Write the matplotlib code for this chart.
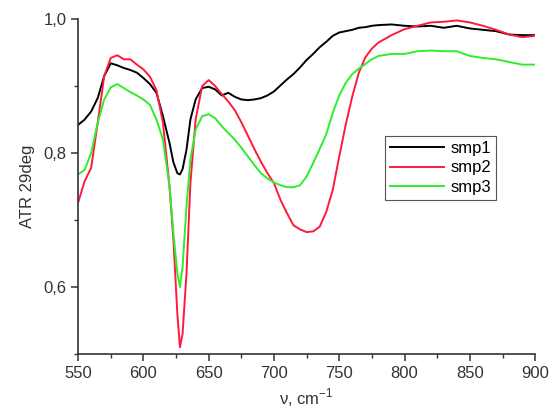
import matplotlib
matplotlib.use("Agg")
import matplotlib.pyplot as plt
from matplotlib.ticker import MultipleLocator, FuncFormatter

plt.rcParams['font.family'] = ['Liberation Sans', 'DejaVu Sans']

# wavenumber, cm-1
nu = [550, 555, 560, 565, 570, 575, 580, 585, 590, 595, 600, 605, 610, 615, 620, 623,
      626, 628, 630, 633, 636, 640, 645, 650, 655, 660, 665, 670, 675, 680, 685, 690,
      695, 700, 705, 710, 715, 720, 725, 730, 735, 740, 745, 750, 755, 760, 765, 770,
      775, 780, 790, 800, 810, 820, 830, 840, 850, 860, 870, 880, 890, 900]

smp1 = [0.842, 0.850, 0.862, 0.882, 0.915, 0.934, 0.931, 0.927, 0.924, 0.920, 0.912, 0.903,
        0.890, 0.855, 0.815, 0.786, 0.770, 0.768, 0.776, 0.805, 0.850, 0.880, 0.897, 0.899,
        0.895, 0.886, 0.890, 0.884, 0.880, 0.879, 0.880, 0.882, 0.886, 0.892, 0.901, 0.910,
        0.918, 0.928, 0.939, 0.948, 0.958, 0.966, 0.975, 0.980, 0.982, 0.984, 0.987, 0.988,
        0.990, 0.991, 0.992, 0.990, 0.989, 0.990, 0.987, 0.990, 0.986, 0.984, 0.982, 0.977,
        0.976, 0.976]

smp2 = [0.726, 0.758, 0.778, 0.845, 0.915, 0.942, 0.946, 0.940, 0.940, 0.932, 0.925, 0.914,
        0.894, 0.845, 0.750, 0.670, 0.560, 0.510, 0.530, 0.620, 0.755, 0.850, 0.900, 0.909,
        0.900, 0.888, 0.877, 0.864, 0.846, 0.826, 0.806, 0.787, 0.770, 0.755, 0.730, 0.710,
        0.692, 0.686, 0.682, 0.683, 0.690, 0.712, 0.745, 0.795, 0.843, 0.885, 0.920, 0.943,
        0.956, 0.965, 0.976, 0.985, 0.990, 0.995, 0.996, 0.998, 0.995, 0.990, 0.984, 0.977,
        0.973, 0.975]

smp3 = [0.768, 0.775, 0.800, 0.845, 0.880, 0.898, 0.903, 0.897, 0.891, 0.886, 0.880, 0.872,
        0.850, 0.820, 0.750, 0.680, 0.620, 0.600, 0.630, 0.720, 0.790, 0.835, 0.855, 0.858,
        0.852, 0.840, 0.830, 0.820, 0.808, 0.795, 0.782, 0.770, 0.762, 0.756, 0.752, 0.749,
        0.749, 0.752, 0.765, 0.785, 0.806, 0.828, 0.860, 0.886, 0.905, 0.918, 0.926, 0.933,
        0.940, 0.945, 0.948, 0.948, 0.952, 0.953, 0.952, 0.952, 0.945, 0.942, 0.940, 0.936,
        0.932, 0.932]

fig = plt.figure(figsize=(5.5, 4.15), dpi=100)
ax = fig.add_axes([0.142, 0.147, 0.831, 0.807])

ax.plot(nu, smp1, color='black', lw=1.4, label='smp1')
ax.plot(nu, smp2, color='#ff1a3c', lw=1.4, label='smp2')
ax.plot(nu, smp3, color='#2cee2c', lw=1.4, label='smp3')

ax.set_xlim(550, 900)
ax.set_ylim(0.5, 1.0)
ax.xaxis.set_major_locator(MultipleLocator(50))
ax.xaxis.set_minor_locator(MultipleLocator(25))
ax.yaxis.set_major_locator(MultipleLocator(0.2))
ax.yaxis.set_minor_locator(MultipleLocator(0.1))
ax.yaxis.set_major_formatter(FuncFormatter(lambda v, p: f"{v:.1f}".replace('.', ',')))

for side in ['top', 'right']:
    ax.spines[side].set_visible(False)
for side in ['left', 'bottom']:
    ax.spines[side].set_color('#333333')
    ax.spines[side].set_linewidth(1.2)
ax.tick_params(which='major', direction='out', length=5, width=1.1, labelsize=12,
               colors='#333333')
ax.tick_params(which='minor', direction='out', length=3, width=1.0, colors='#333333')

ax.set_xlabel(r'ν, cm$^{\mathregular{-1}}$', fontsize=12, labelpad=4, color='#333333')
ax.set_ylabel('ATR 29deg', fontsize=12, labelpad=6, color='#333333')

leg = ax.legend(loc='upper left', bbox_to_anchor=(0.654, 0.675), fontsize=12,
                fancybox=False, framealpha=1, edgecolor='#555555', handlelength=3.2,
                borderpad=0.3, labelspacing=0.25, handletextpad=0.4)
leg.get_frame().set_linewidth(0.8)

fig.savefig('out.png', dpi=100)
